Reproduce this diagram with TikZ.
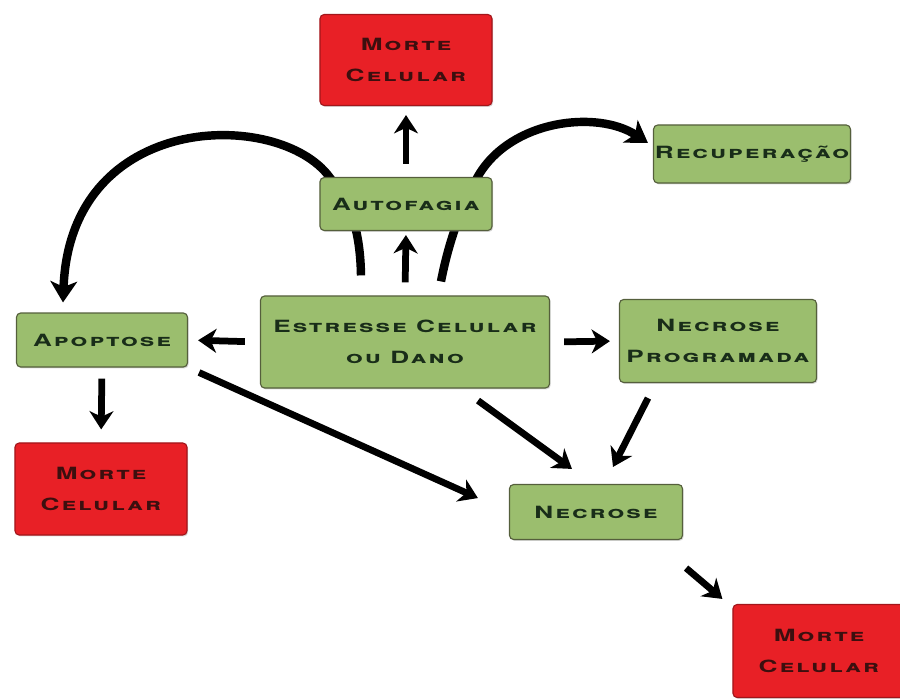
\documentclass[tikz,border=0pt]{standalone}
\usepackage{fontspec}
\usepackage{tikz}
\usetikzlibrary{arrows.meta,calc,backgrounds,shadows}
\newfontfamily\boxfont[FakeStretch=1.55,LetterSpace=12]{TeX Gyre Heros}
\definecolor{boxgreen}{RGB}{155,190,110}
\definecolor{boxline}{RGB}{85,95,60}
\definecolor{boxred}{RGB}{232,32,38}
\definecolor{greentext}{RGB}{25,45,25}
\definecolor{redtext}{RGB}{60,15,15}
\tikzset{
  box/.style={draw=boxline,line width=0.8pt,fill=boxgreen,rounded corners=3pt,
    text=greentext,font=\boxfont\bfseries\scshape\fontsize{12}{22}\selectfont,
    align=center,inner sep=1pt,
    drop shadow={opacity=0.3,shadow xshift=0.8pt,shadow yshift=-1pt}},
  redbox/.style={box,fill=boxred,draw=boxred!70!black,text=redtext},
  arr/.style={line width=4.8pt,-{Stealth[length=13pt,width=17pt,inset=4pt]}},
  curvearr/.style={line width=6pt,-{Stealth[length=15pt,width=19pt,inset=4pt]}}
}
\begin{document}
\begin{tikzpicture}[x=0.025cm,y=-0.025cm]
   \useasboundingbox (0,0) rectangle (900,698);
   \node [redbox,minimum width=4.3cm,minimum height=2.275cm] (mtop) at (406,60) {Morte\\Celular}; % top
   \node [box,minimum width=4.3cm,minimum height=1.325cm] (auto) at (406,204) {Autofagia};
   \node [box,minimum width=4.85cm,minimum height=1.45cm] (recup) at (752,154) {Recuperação};
   \node [box,minimum width=7.225cm,minimum height=2.3cm] (est) at (405,342) {Estresse Celular\\ou Dano}; % centre
   \node [box,minimum width=4.275cm,minimum height=1.35cm] (apo) at (102,340) {Apoptose};
   \node [box,minimum width=4.925cm,minimum height=2.075cm] (nprog) at (718,341) {Necrose\\Programada};
   \node [redbox,minimum width=4.3cm,minimum height=2.3cm] (mleft) at (101,489) {Morte\\Celular};
   \node [box,minimum width=4.325cm,minimum height=1.375cm] (nec) at (596,512) {Necrose};
   \node [redbox,minimum width=4.3cm,minimum height=2.325cm] (mbr) at (819,651) {Morte\\Celular}; % bottom right
   % straight arrows
   \draw [arr,shorten <=0.325cm,shorten >=0.225cm] (auto.north) -- (mtop.south);
   \draw [arr,shorten <=0.325cm,shorten >=0.1cm] (est.north) -- (auto.south);
   \draw [arr,shorten <=0.375cm,shorten >=0.25cm] (est.west) -- (apo.east);
   \draw [arr,shorten <=0.275cm,shorten >=0.325cm] (apo.south) -- (mleft.north);
   \draw [arr,shorten <=0.3cm,shorten >=0.85cm] (apo.south east) -- (nec.west);
   \draw [arr,shorten <=0.35cm,shorten >=0.225cm] (est.east) -- (nprog.west);
   \draw [arr] ($(est.south)+(73,12)$) -- ($(nec.north)+(-24,-15)$);
   \draw [arr] ($(nprog.south)+(-70,15)$) -- ($(nec.north)+(17,-17)$);
   \draw [arr] ($(nec.south east)+(3,28)$) -- ($(mbr.north west)+(-10,-5)$);
   % curves behind Autofagia
   \begin{scope}[on background layer]
   \draw [curvearr] ($(est.north)+(-44,-20)$)
     .. controls +(-1,-61) and +(12,16) .. ($(auto.north west)+(10,0)$)
     .. controls +(-50,-68) and +(7,-193) .. ($(apo.north)+(-39,-10)$);
   \draw [curvearr] ($(est.north)+(36,-14)$)
     .. controls +(9,-47) and +(-12,22) .. ($(auto.north east)+(-15,0)$)
     .. controls +(33,-58) and +(-50,-33) .. ($(recup.west)+(-5,-11)$);
   \end{scope}
\end{tikzpicture}
\end{document}
